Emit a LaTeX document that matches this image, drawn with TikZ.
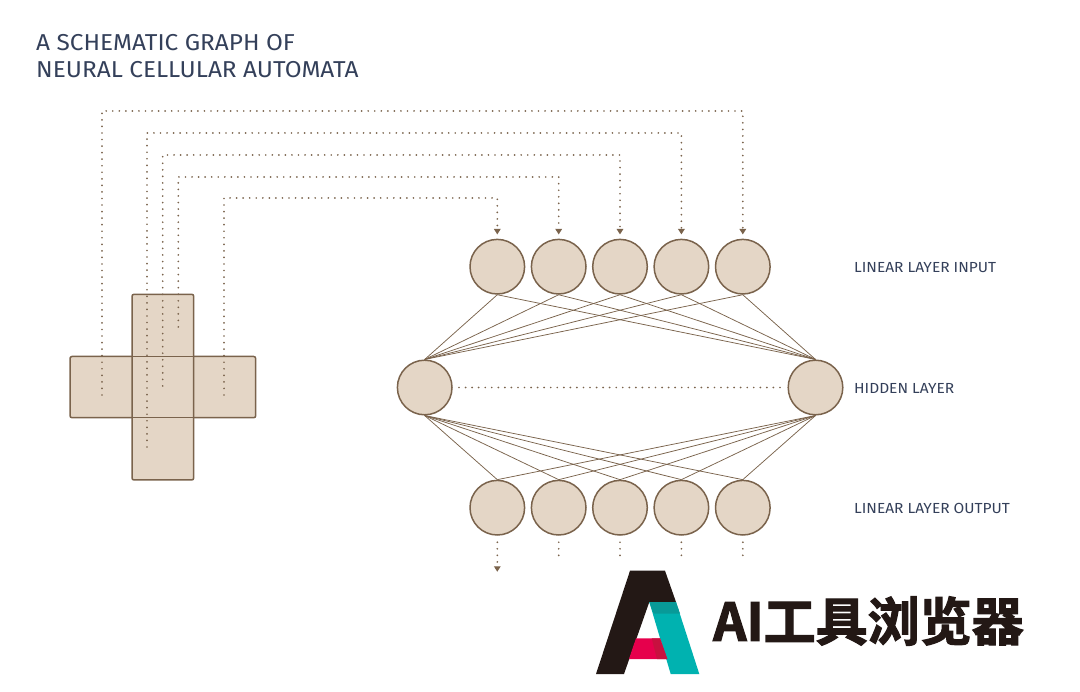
\documentclass[tikz,border=0pt]{standalone}
\usepackage{fontspec}
\usetikzlibrary{arrows.meta}
\setmainfont[FakeStretch=1.06]{Fira Sans}
\newfontfamily\cjkfont[FakeBold=2.2]{Noto Sans CJK SC Bold}
\definecolor{tan}{HTML}{E4D6C6}
\definecolor{edge}{HTML}{7A634C}
\definecolor{ink}{HTML}{34405A}
\definecolor{logoblack}{HTML}{231815}
\definecolor{logoteal}{HTML}{00B2B0}
\definecolor{logotealdark}{HTML}{089A98}
\definecolor{logored}{HTML}{E6004C}
\definecolor{logoreddark}{HTML}{C8103F}
\tikzset{
  x=1pt,y=-1pt,
  neuron/.style={circle,draw=edge,fill=tan,line width=1.5pt,minimum size=54.6pt,inner sep=0pt},
  cell/.style={draw=edge,fill=tan,line width=1.5pt,rounded corners=2pt},
  link/.style={draw=edge,line width=.75pt},
  dots/.style={draw=edge,line width=1.9pt,line cap=round,dash pattern=on 0pt off 6.55pt},
  flow/.style={dots,-{Triangle[length=5.5pt,width=6.5pt,fill=edge]},shorten >=4.2pt},
  lab/.style={anchor=west,text=ink,font=\fontsize{14.6}{16}\selectfont,inner sep=0pt},
  ttl/.style={anchor=west,text=ink,font=\fontsize{23}{26}\selectfont,inner sep=0pt}
}
\begin{document}
\begin{tikzpicture}
\useasboundingbox (0,0) rectangle (1080,692);
% title
\node[ttl] (t1) at (36,43) {A SCHEMATIC GRAPH OF};
\node[ttl] (t2) at (36,70) {NEURAL CELLULAR AUTOMATA};
% cross
\path[cell] (70,356.5) rectangle (255.7,417.7);
\path[cell] (132,294.3) rectangle (193.7,480);
\draw[edge,line width=1.5pt] (132,356.5) -- (193.7,356.5) (132,417.7) -- (193.7,417.7);
% neurons
\foreach \i/\x in {1/497.3,2/558.7,3/620,4/681.4,5/742.8}{
  \node[neuron] (a\i) at (\x,266.7) {};
  \node[neuron] (b\i) at (\x,507.7) {};
}
\node[neuron] (hl) at (424.7,387.5) {};
\node[neuron] (hr) at (815.5,387.5) {};
% links
\foreach \i in {1,...,5}{
  \draw[link] (a\i.south) -- (hl.north);
  \draw[link] (a\i.south) -- (hr.north);
  \draw[link] (b\i.north) -- (hl.south);
  \draw[link] (b\i.north) -- (hr.south);
}
% hidden dotted
\coordinate (d1) at (459,387.5);
\coordinate (d2) at (780,387.5);
\path[dots] (d1) -- (d2);
% flow paths
\coordinate (s1) at (102,395); \coordinate (h1) at (742.8,111);
\coordinate (s2) at (147,447); \coordinate (h2) at (681.4,133);
\coordinate (s3) at (162.7,386); \coordinate (h3) at (620,155);
\coordinate (s4) at (178.3,327); \coordinate (h4) at (558.7,177);
\coordinate (s5) at (224,395); \coordinate (h5) at (497.3,198);
\path[flow] (s1) |- (h1) -- (a5.north);
\path[flow] (s2) |- (h2) -- (a4.north);
\path[flow] (s3) |- (h3) -- (a3.north);
\path[flow] (s4) |- (h4) -- (a2.north);
\path[flow] (s5) |- (h5) -- (a1.north);
% output stubs
\coordinate (e1) at (497.3,576);
\path[flow] ([yshift=-6.5pt]b1.south) -- (e1);
\foreach \i in {2,...,5}{
  \path[dots] ([yshift=-6.5pt]b\i.south) -- ([yshift=-20pt]b\i.south);
}
% labels
\node[lab] (l1) at (854,267.5) {LINEAR LAYER INPUT};
\node[lab] (l2) at (854,388) {HIDDEN LAYER};
\node[lab] (l3) at (854,508.5) {LINEAR LAYER OUTPUT};
% logo
\fill[logoblack] (630,570.7) -- (665,570.7) -- (676,602) -- (649.3,602) -- (624,674) -- (596,674) -- cycle;
\fill[logoteal] (649.3,602) -- (676,602) -- (699.3,674) -- (670.7,674) -- cycle;
\fill[logotealdark] (649.3,602) -- (676,602) -- (680,613.5) -- (653.5,613.5) -- cycle;
\fill[logored] (636,638.3) -- (660,638.3) -- (667.3,659) -- (629,659) -- cycle;
\fill[logoreddark] (651.7,638.3) -- (660,638.3) -- (667.3,659) -- (657,659) -- cycle;
\node[anchor=west,inner sep=0pt,text=logoblack,font=\cjkfont\fontsize{52}{60}\selectfont] (logo) at (713,621) {AI工具浏览器};
\end{tikzpicture}
\end{document}
